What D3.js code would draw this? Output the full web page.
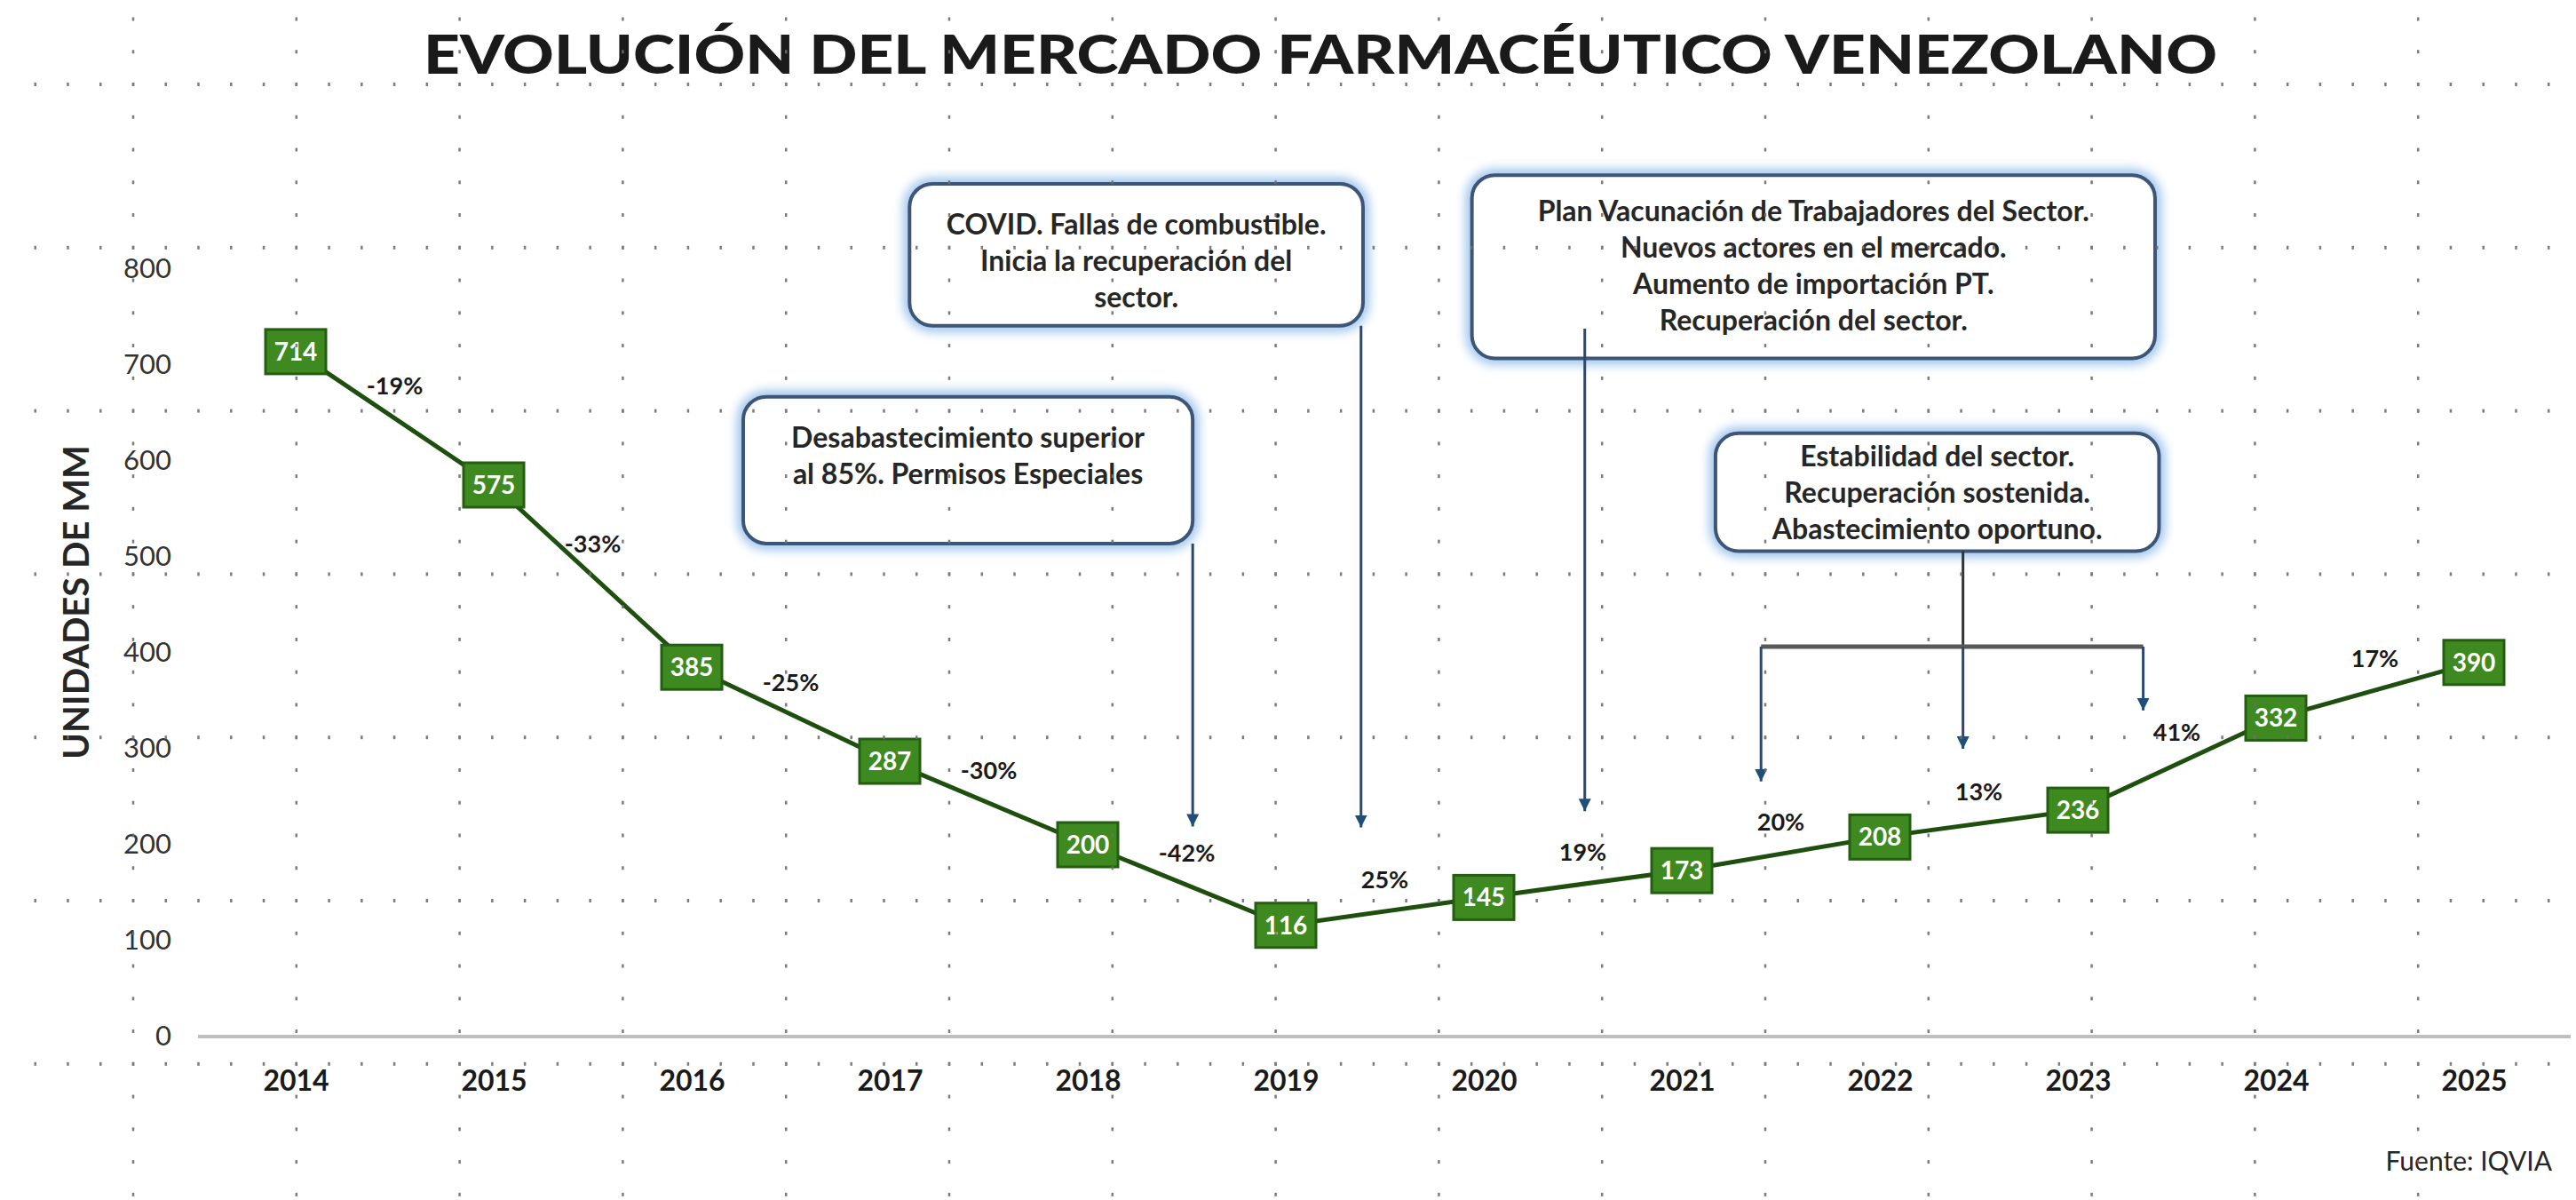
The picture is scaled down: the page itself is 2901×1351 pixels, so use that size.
<!DOCTYPE html>
<html>
<head>
<meta charset="utf-8">
<script src="https://cdn.jsdelivr.net/npm/d3@7"></script>
<style>
  html, body { margin: 0; padding: 0; background: #fff; }
  svg { display: block; font-family: Lato, "Open Sans", sans-serif; }
</style>
</head>
<body>
<div id="chart"></div>
<script>
// data
const years = [2014, 2015, 2016, 2017, 2018, 2019, 2020, 2021, 2022, 2023, 2024, 2025];
const units = [714, 575, 385, 287, 200, 116, 145, 173, 208, 236, 332, 390];
const changes = ["-19%", "-33%", "-25%", "-30%", "-42%", "25%", "19%", "20%", "13%", "41%", "17%"];
const yTicks = [0, 100, 200, 300, 400, 500, 600, 700, 800];

const notes2018 = ["Desabastecimiento superior", "al 85%. Permisos Especiales"];
const notes2019 = ["COVID. Fallas de combustible.", "Inicia la recuperación del", "sector."];
const notes2020 = ["Plan Vacunación de Trabajadores del Sector.", "Nuevos actores en el mercado.",
  "Aumento de importación PT.", "Recuperación del sector."];
const notes2022 = ["Estabilidad del sector.", "Recuperación sostenida.", "Abastecimiento oportuno."];

const W = 2901, H = 1351;

const svg = d3.select("#chart").append("svg")
  .attr("width", W)
  .attr("height", H);

const x = d3.scalePoint().domain(years).range([333, 2786]);
// continuous year scale, used to anchor the callouts between years
const xLin = d3.scaleLinear().domain([2014, 2025]).range([333, 2786]);
const y = d3.scaleLinear().domain([0, 800]).range([1167, 303]);

const defs = svg.append("defs");
defs.append("filter").attr("id", "glow")
  .attr("x", "-10%").attr("y", "-20%").attr("width", "120%").attr("height", "140%")
  .append("feGaussianBlur").attr("stdDeviation", 6);
defs.append("marker")
  .attr("id", "arrow")
  .attr("viewBox", "0 0 10 10")
  .attr("refX", 10).attr("refY", 5)
  .attr("markerWidth", 14).attr("markerHeight", 16)
  .attr("markerUnits", "userSpaceOnUse")
  .attr("orient", "auto")
  .append("path")
  .attr("d", "M0,0 L10,5 L0,10 Z")
  .attr("fill", "#1f4e79");

// Title
svg.append("text")
  .attr("x", 1487)
  .attr("y", 83)
  .attr("text-anchor", "middle")
  .attr("font-size", 60)
  .attr("font-weight", 900)
  .attr("textLength", 2020)
  .attr("lengthAdjust", "spacingAndGlyphs")
  .attr("fill", "#1a1a1a")
  .text("EVOLUCIÓN DEL MERCADO FARMACÉUTICO VENEZOLANO");

// Y axis
const yAxis = svg.append("g")
  .attr("transform", "translate(193,0)")
  .call(d3.axisLeft(y).tickValues(yTicks).tickSize(0).tickPadding(0));
yAxis.attr("font-family", null).attr("font-size", null);
yAxis.select(".domain").remove();
yAxis.selectAll(".tick text")
  .attr("font-size", 31)
  .attr("fill", "#333");

svg.append("text")
  .attr("transform", "translate(100,678) rotate(-90)")
  .attr("text-anchor", "middle")
  .attr("font-size", 40)
  .attr("font-weight", 700)
  .attr("fill", "#262626")
  .text("UNIDADES DE MM");

// X axis
svg.append("line")
  .attr("x1", 223).attr("x2", 2895)
  .attr("y1", y(0)).attr("y2", y(0))
  .attr("stroke", "#bfbfbf")
  .attr("stroke-width", 4);

const xAxis = svg.append("g")
  .attr("transform", `translate(0,${y(0)})`)
  .call(d3.axisBottom(x).tickSize(0).tickPadding(0));
xAxis.attr("font-family", null).attr("font-size", null);
xAxis.select(".domain").remove();
xAxis.selectAll(".tick text")
  .attr("y", 50)
  .attr("dy", "0.35em")
  .attr("font-size", 32)
  .attr("font-weight", 700)
  .attr("fill", "#1a1a1a");

// Callouts, placed in year / value units
const callouts = [
  { lines: notes2018, x0: 2016.26, x1: 2018.53, v0: 667, v1: 514, first: 46,
    arrows: [{ at: 2018.53, from: 514, to: 219 }] },
  { lines: notes2019, x0: 2017.10, x1: 2019.39, v0: 889, v1: 741, first: 46,
    arrows: [{ at: 2019.38, from: 741, to: 218 }] },
  { lines: notes2020, x0: 2019.94, x1: 2023.39, v0: 898, v1: 707, first: 41,
    arrows: [{ at: 2020.51, from: 738, to: 235 }] },
  { lines: notes2022, x0: 2021.17, x1: 2023.41, v0: 629, v1: 506, first: 26,
    stem: { at: 2022.42, bar: 406.5, left: 2021.40, right: 2023.33 },
    arrows: [{ at: 2021.40, from: 406.5, to: 266 }, { at: 2022.42, from: 406.5, to: 300 },
      { at: 2023.33, from: 406.5, to: 340 }] }
];

const notes = svg.append("g");
callouts.forEach((c) => {
  const bx = xLin(c.x0), by = y(c.v0);
  const bw = xLin(c.x1) - bx, bh = y(c.v1) - by;
  const g = notes.append("g");

  g.append("rect")
    .attr("x", bx).attr("y", by).attr("width", bw).attr("height", bh)
    .attr("rx", 26)
    .attr("fill", "none")
    .attr("stroke", "#9cc4ec")
    .attr("stroke-width", 14)
    .attr("filter", "url(#glow)");
  g.append("rect")
    .attr("x", bx).attr("y", by).attr("width", bw).attr("height", bh)
    .attr("rx", 26)
    .attr("fill", "#fff")
    .attr("stroke", "#3d5577")
    .attr("stroke-width", 4);

  g.selectAll("text.note")
    .data(c.lines)
    .enter()
    .append("text")
    .attr("class", "note")
    .attr("x", bx + bw / 2)
    .attr("y", (d, i) => by + c.first + i * 41)
    .attr("dy", "0.35em")
    .attr("text-anchor", "middle")
    .attr("font-size", 32)
    .attr("font-weight", 700)
    .attr("fill", "#262626")
    .text((d) => d);

  if (c.stem) {
    g.append("line")
      .attr("x1", xLin(c.stem.at)).attr("x2", xLin(c.stem.at))
      .attr("y1", by + bh).attr("y2", y(c.stem.bar))
      .attr("stroke", "#333")
      .attr("stroke-width", 3);
    g.append("line")
      .attr("x1", xLin(c.stem.left)).attr("x2", xLin(c.stem.right))
      .attr("y1", y(c.stem.bar)).attr("y2", y(c.stem.bar))
      .attr("stroke", "#595959")
      .attr("stroke-width", 5);
  }

  g.selectAll("line.arrow")
    .data(c.arrows)
    .enter()
    .append("line")
    .attr("class", "arrow")
    .attr("x1", (d) => xLin(d.at)).attr("x2", (d) => xLin(d.at))
    .attr("y1", (d) => y(d.from)).attr("y2", (d) => y(d.to))
    .attr("stroke", "#2c4770")
    .attr("stroke-width", 3)
    .attr("marker-end", "url(#arrow)");
});

// Series line
const series = years.map((d, i) => ({ year: d, value: units[i] }));

svg.append("path")
  .datum(series)
  .attr("fill", "none")
  .attr("stroke", "#1e4f0f")
  .attr("stroke-width", 5)
  .attr("d", d3.line().x((d) => x(d.year)).y((d) => y(d.value)));

// Year over year labels
svg.selectAll("text.change")
  .data(changes)
  .enter()
  .append("text")
  .attr("class", "change")
  .attr("x", (d, i) => (x(years[i]) + x(years[i + 1])) / 2)
  .attr("y", (d, i) => y((units[i] + units[i + 1]) / 2) - 36)
  .attr("dy", "0.35em")
  .attr("text-anchor", "middle")
  .attr("font-size", 27)
  .attr("font-weight", 700)
  .attr("fill", "#1a1a1a")
  .text((d) => d);

// Markers with values
const marks = svg.selectAll("g.mark")
  .data(series)
  .enter()
  .append("g")
  .attr("class", "mark")
  .attr("transform", (d) => `translate(${x(d.year)},${y(d.value)})`);

marks.append("rect")
  .attr("x", -34).attr("y", -25)
  .attr("width", 68).attr("height", 50)
  .attr("fill", "#3f8a20")
  .attr("stroke", "#245e10")
  .attr("stroke-width", 3);

marks.append("text")
  .attr("dy", "0.35em")
  .attr("text-anchor", "middle")
  .attr("font-size", 28)
  .attr("font-weight", 700)
  .attr("fill", "#fff")
  .text((d) => d.value);

// Source
svg.append("text")
  .attr("x", 2874)
  .attr("y", 1318)
  .attr("text-anchor", "end")
  .attr("font-size", 30)
  .attr("fill", "#262626")
  .text("Fuente: IQVIA");

// Dotted guide grid laid over the whole picture
const step = 183.8, dot = step / 5;
const gridX = d3.range(0, 15).map((i) => 150 + i * step);
const gridY = d3.range(0, 7).map((i) => 95 + i * step);
const dotsAlongX = d3.range(-3, 75).map((k) => 150 + k * dot).filter((v) => v > 0 && v < W);
const dotsAlongY = d3.range(-2, 35).map((k) => 95 + k * dot).filter((v) => v > 0 && v < H);

const grid = svg.append("g").attr("fill", "#6e6e6e").attr("opacity", 0.9);
gridX.forEach((gx) => {
  grid.selectAll(null)
    .data(dotsAlongY)
    .enter()
    .append("rect")
    .attr("x", gx - 1.25).attr("y", (d) => d - 2)
    .attr("width", 2.5).attr("height", 4);
});
gridY.forEach((gy) => {
  grid.selectAll(null)
    .data(dotsAlongX)
    .enter()
    .append("rect")
    .attr("x", (d) => d - 1.25).attr("y", gy - 2)
    .attr("width", 2.5).attr("height", 4);
});
</script>
</body>
</html>
